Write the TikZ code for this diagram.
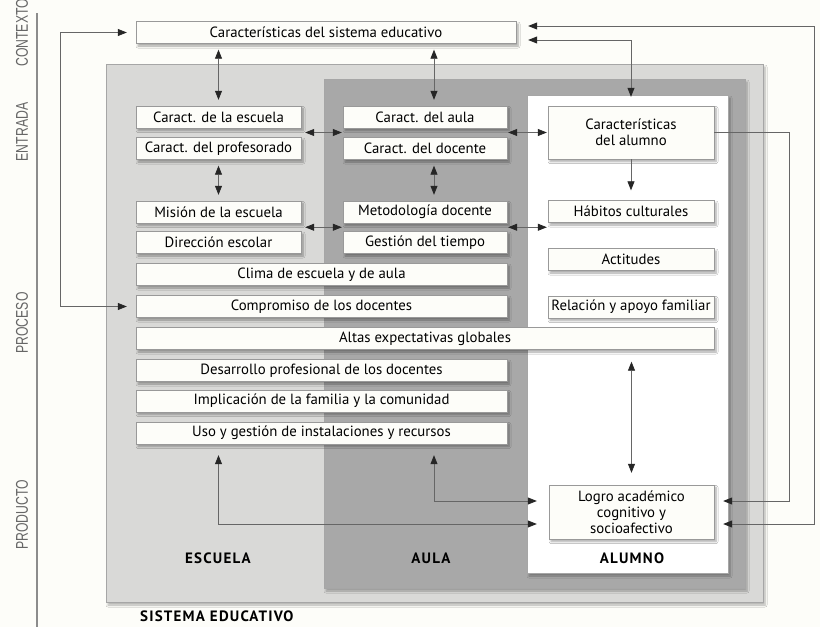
\documentclass[tikz,border=0pt]{standalone}
\usepackage{fontspec}
\setmainfont{PT Sans}
\newfontfamily\lateral[FakeStretch=0.72]{Liberation Sans}
\newfontfamily\rotulo[LetterSpace=8]{PT Sans}
\usetikzlibrary{arrows.meta,shadows.blur,calc}
\definecolor{fondo}{HTML}{FDFDF9}
\definecolor{grisclaro}{HTML}{D9D9D7}
\definecolor{grismedio}{HTML}{A8A8A8}

\begin{document}
\begin{tikzpicture}[
    x=1pt,
    y=-1pt,
    >={Triangle[length=9pt,width=7pt,color=black!85]},
    font=\fontsize{14.8}{16}\selectfont,
    caja/.style={draw=black!40,fill=fondo,inner sep=1pt,minimum height=22pt,
        blur shadow={shadow xshift=2pt,shadow yshift=-2.5pt,shadow blur steps=6,shadow opacity=35}},
    panel/.style={draw=black!35,line width=0.8pt,
        blur shadow={shadow xshift=2pt,shadow yshift=-3pt,shadow blur steps=6,shadow opacity=30}},
    flecha/.style={->,draw=black!60,line width=0.8pt},
    dflecha/.style={<->,draw=black!60,line width=0.8pt},
    lado/.style={font=\lateral\fontsize{17}{17}\selectfont,text=black!60,rotate=90,inner sep=0pt},
    nombre/.style={font=\rotulo\bfseries\fontsize{15}{15}\selectfont,inner sep=0pt}
]
    \fill[fondo] (0,0) rectangle (820,627);
    \useasboundingbox (0,0) rectangle (820,627);

    \draw[black!45,line width=1.2pt] (37,13) -- (37,627);
    \node[lado,anchor=west] (lcontexto) at (22,67) {CONTEXTO};
    \node[lado] (lentrada) at (22,132) {ENTRADA};
    \node[lado] (lproceso) at (22,323) {PROCESO};
    \node[lado] (lproducto) at (22,515) {PRODUCTO};

    \path[panel,fill=grisclaro] (106,64) rectangle (763,602);
    \path[panel,fill=grismedio] (324,79) rectangle (745,588);
    \path[panel,fill=white] (527,95) rectangle (728,573);

    \node[caja,minimum width=380pt] (sistema) at (326,32.5) {Características del sistema educativo};

    \node[caja,minimum width=165pt] (escuela) at (218.5,117) {Caract. de la escuela};
    \node[caja,minimum width=165pt] (profesorado) at (218.5,148.5) {Caract. del profesorado};
    \node[caja,minimum width=165pt] (mision) at (218.5,212) {Misión de la escuela};
    \node[caja,minimum width=165pt] (direccion) at (218.5,242.5) {Dirección escolar};

    \node[caja,minimum width=164pt] (aula) at (425,117) {Caract. del aula};
    \node[caja,minimum width=164pt] (docente) at (425,148.5) {Caract. del docente};
    \node[caja,minimum width=164pt] (metodologia) at (425,212) {Metodología docente};
    \node[caja,minimum width=164pt] (tiempo) at (425,242.5) {Gestión del tiempo};

    \node[caja,minimum width=166pt,minimum height=53pt,align=center] (alumno) at (631,132.5)
        {Características\\del alumno};
    \node[caja,minimum width=166pt] (habitos) at (631,211.5) {Hábitos culturales};
    \node[caja,minimum width=166pt] (actitudes) at (631,259.5) {Actitudes};
    \node[caja,minimum width=166pt] (familiar) at (631,307) {Relación y apoyo familiar};

    \node[caja,minimum width=371pt] (clima) at (321.5,274.5) {Clima de escuela y de aula};
    \node[caja,minimum width=371pt] (compromiso) at (321.5,306.5) {Compromiso de los docentes};
    \node[caja,minimum width=578pt] (altas) at (425,338.5) {Altas expectativas globales};
    \node[caja,minimum width=371pt] (desarrollo) at (321.5,370.5) {Desarrollo profesional de los docentes};
    \node[caja,minimum width=371pt] (implicacion) at (321.5,401) {Implicación de la familia y la comunidad};
    \node[caja,minimum width=371pt] (uso) at (321.5,433) {Uso y gestión de instalaciones y recursos};

    \node[caja,minimum width=165pt,minimum height=54pt,align=center] (logro) at (631.5,512)
        {Logro académico\\cognitivo y\\socioafectivo};

    \node[nombre] (nescuela) at (218,558) {ESCUELA};
    \node[nombre] (naula) at (431,558) {AULA};
    \node[nombre] (nalumno) at (632,558) {ALUMNO};
    \node[nombre,anchor=west] (nsistema) at (140,616) {SISTEMA EDUCATIVO};

    \coordinate (medio) at ($(mision.south)!0.5!(direccion.north)$);

    \draw[dflecha,shorten <=9pt,shorten >=9pt] (sistema.west) -- ++(-75,0) |- (compromiso.west);
    \draw[dflecha,shorten <=6pt,shorten >=6pt] (sistema.south -| escuela.north) -- (escuela.north);
    \draw[dflecha,shorten <=6pt,shorten >=6pt] ($(sistema.south -| aula.north)+(9,0)$) -- ($(aula.north)+(9,0)$);
    \draw[dflecha,shorten <=12pt,shorten >=9pt] ([yshift=6.5pt]sistema.east) -- ++(298,0) |- ([yshift=-12pt]logro.east);
    \draw[dflecha,shorten <=12pt,shorten >=9pt] ([yshift=-7.5pt]sistema.east) -| (alumno.north);
    \draw[flecha,shorten >=9pt] (alumno.east) -- ++(75,0) |- ([yshift=11pt]logro.east);
    \draw[flecha,shorten >=10pt] (alumno.south) -- (habitos.north);
    \draw[dflecha,shorten <=12pt,shorten >=12pt] (logro.north |- altas.south) -- (logro.north);

    \draw[dflecha,shorten <=4pt,shorten >=1pt] (escuela.east |- alumno.west) -- (aula.west |- alumno.west);
    \draw[dflecha,shorten <=1pt,shorten >=1pt] (aula.east |- alumno.west) -- (alumno.west);
    \draw[dflecha,shorten <=6pt,shorten >=6pt] (profesorado.south) -- (mision.north);
    \draw[dflecha,shorten <=6pt,shorten >=6pt] ($(docente.south)+(9,0)$) -- ($(metodologia.north)+(9,0)$);
    \draw[dflecha,shorten <=4pt,shorten >=1pt] (mision.east |- medio) -- (metodologia.west |- medio);
    \draw[dflecha,shorten <=1pt,shorten >=1pt] (metodologia.east |- medio) -- (habitos.west |- medio);

    \draw[dflecha,shorten <=11pt,shorten >=12pt] (uso.south -| escuela.south) |- ([yshift=-12pt]logro.west);
    \draw[dflecha,shorten <=11pt,shorten >=12pt] ($(uso.south -| aula.south)+(9,0)$) |- ([yshift=11pt]logro.west);
\end{tikzpicture}
\end{document}
